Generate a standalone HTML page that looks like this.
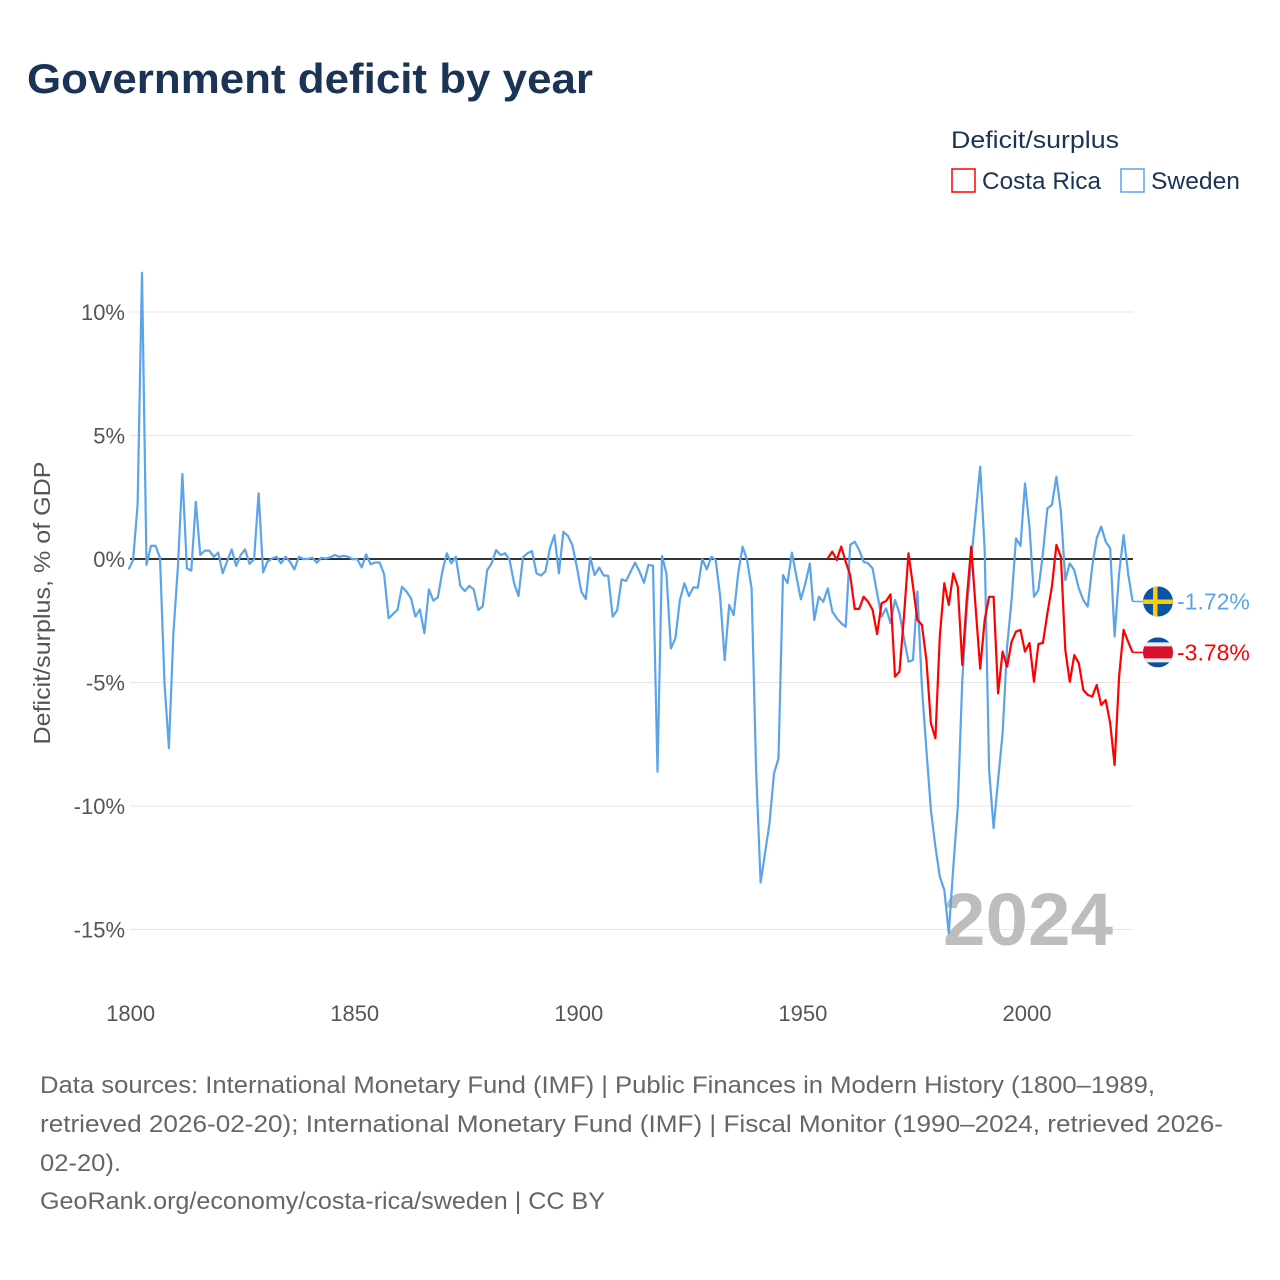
<!DOCTYPE html>
<html><head><meta charset="utf-8"><style>
html,body{margin:0;padding:0;background:#fff;}
svg{display:block;font-family:"Liberation Sans",sans-serif;}
</style></head><body>
<svg id="chart" width="1280" height="1280" viewBox="0 0 1280 1280" xmlns="http://www.w3.org/2000/svg">
<text x="27" y="93" font-size="42" font-weight="bold" fill="#1b3354" textLength="566" lengthAdjust="spacingAndGlyphs">Government deficit by year</text>
<text x="951" y="148" font-size="24" fill="#1b3354" textLength="168" lengthAdjust="spacingAndGlyphs">Deficit/surplus</text>
<g>
<rect x="952" y="169" width="23" height="23" fill="#fff" stroke="#ff0000" stroke-width="1.5"/>
<text x="982" y="189" font-size="24" fill="#1b3354" textLength="119" lengthAdjust="spacingAndGlyphs">Costa Rica</text>
</g>
<g>
<rect x="1121" y="169" width="23" height="23" fill="#fff" stroke="#5ba4ea" stroke-width="1.5"/>
<text x="1151" y="189" font-size="24" fill="#1b3354" textLength="89" lengthAdjust="spacingAndGlyphs">Sweden</text>
</g>
<text transform="translate(50,603) rotate(-90)" text-anchor="middle" font-size="23" fill="#555" textLength="283" lengthAdjust="spacingAndGlyphs">Deficit/surplus, % of GDP</text>
<g id="grid"></g>
<g id="xaxis"></g>
<text x="1113" y="945" text-anchor="end" font-size="74" font-weight="bold" fill="#bdbdbd" textLength="170" lengthAdjust="spacingAndGlyphs">2024</text>
<g id="series"></g>
<g id="endlabels"></g>
<g font-size="24" fill="#666">
<text x="40" y="1093" textLength="1115" lengthAdjust="spacingAndGlyphs">Data sources: International Monetary Fund (IMF) | Public Finances in Modern History (1800–1989,</text>
<text x="40" y="1132" textLength="1183" lengthAdjust="spacingAndGlyphs">retrieved 2026-02-20); International Monetary Fund (IMF) | Fiscal Monitor (1990–2024, retrieved 2026-</text>
<text x="40" y="1171" textLength="81" lengthAdjust="spacingAndGlyphs">02-20).</text>
<text x="40" y="1209" textLength="565" lengthAdjust="spacingAndGlyphs">GeoRank.org/economy/costa-rica/sweden | CC BY</text>
</g>
</svg>
<script>
const yTicks = [10, 5, 0, -5, -10, -15];
const xTicks = [1800, 1850, 1900, 1950, 2000];
const swedenStart = 1800;
const swedenValues = [
-0.42,-0.04,2.19,11.59,-0.24,0.53,0.54,0.05,-5.03,-7.66,
-3.01,-0.31,3.44,-0.38,-0.47,2.31,0.16,0.34,0.34,0.09,
0.26,-0.58,-0.08,0.39,-0.28,0.16,0.39,-0.2,-0.01,2.66,
-0.54,-0.11,0.02,0.09,-0.18,0.09,-0.11,-0.42,0.09,0,
0,0.05,-0.15,0.05,0.02,0.07,0.16,0.09,0.13,0.09,-0.01,
0,-0.34,0.19,-0.21,-0.14,-0.14,-0.61,-2.4,-2.23,-2.06,
-1.12,-1.32,-1.59,-2.33,-2.04,-3.01,-1.23,-1.69,-1.55,-0.51,
0.23,-0.18,0.09,-1.09,-1.3,-1.09,-1.23,-2.06,-1.92,-0.45,
-0.18,0.36,0.16,0.23,-0.04,-0.98,-1.5,0.07,0.23,0.32,
-0.58,-0.67,-0.51,0.43,0.97,-0.58,1.1,0.94,0.57,-0.31,
-1.32,-1.62,0.07,-0.65,
-0.35,-0.67,-0.68,-2.33,-2.08,-0.82,-0.89,-0.51,-0.15,-0.51,
-0.96,-0.24,-0.27,-8.61,0.12,-0.58,-3.62,-3.21,-1.66,-0.98,
-1.5,-1.15,-1.16,0,-0.42,0.09,-0.04,-1.53,-4.09,-1.86,
-2.27,-0.58,0.5,-0.04,-1.19,-8.54,-13.1,-11.92,-10.7,-8.68,
-8.07,-0.65,-0.98,0.26,-0.71,-1.63,-0.98,-0.18,-2.47,-1.53,-1.73,
-1.19,-2.13,-2.4,-2.6,-2.74,0.57,0.7,0.36,-0.11,-0.18,
-0.38,-1.39,-2.33,-2.0,-2.6,-1.66,-2.2,-3.21,-4.16,-4.09,-1.32,
-5.17,-7.73,-10.16,-11.65,-12.86,-13.4,-15.15,-12.46,-10.03,-4.9,
-2.06,-0.04,1.85,3.74,0.36,-8.54,-10.9,-8.95,-7.06,-3.55,
-1.66,0.84,0.53,3.06,1.3,-1.53,
-1.26,0.23,2.05,2.19,3.33,1.92,-0.85,-0.18,-0.45,-1.19,
-1.66,-1.93,-0.31,0.84,1.31,0.7,0.43,-3.14,-0.58,0.97,-0.58,-1.72
];
const costaStart = 1956;
const costaValues = [
0.03,0.3,-0.04,0.5,-0.11,-0.65,-2.02,-2.02,-1.53,-1.73,
-2.06,-3.04,-1.79,-1.7,-1.43,-4.76,-4.56,-2.3,0.23,-1.1,
-2.47,-2.67,-4.09,-6.65,-7.26,-3.14,-0.98,-1.86,-0.58,-1.12,
-4.29,-1.66,0.5,-2.0,-4.44,-2.47,-1.53,-1.53,-5.44,-3.75,
-4.36,-3.35,-2.94,-2.87,-3.75,-3.4,-4.97,-3.44,-3.4,-2.2,
-1.12,0.57,0.09,-3.68,-4.97,-3.89,-4.22,-5.3,-5.5,-5.57,
-5.1,-5.91,-5.71,-6.65,-8.34,-4.76,-2.87,-3.35,-3.78
];
const NS = "http://www.w3.org/2000/svg";
const X0 = 128.6, XS = 4.482, Y0 = 559, YS = 24.7, PL = 130, PR = 1133;
function xs(yr){ return X0 + (yr - 1800) * XS; }
function ys(v){ return Y0 - v * YS; }
function mk(tag, attrs, parent){ const e = document.createElementNS(NS, tag); for (const k in attrs) e.setAttribute(k, attrs[k]); parent.appendChild(e); return e; }
const grid = document.getElementById('grid');
yTicks.forEach(t => {
  const ln = mk('line', {x1: PL, x2: PR, y1: ys(t), y2: ys(t), stroke: t === 0 ? '#333' : '#e6e6e6', 'stroke-width': t === 0 ? 2 : 1}, grid);
  
  
  const lb = mk('text', {x: 125, y: ys(t) + 8, 'text-anchor': 'end', 'font-size': 22, fill: '#555'}, grid);
  lb.textContent = t + '%';
  
  
});
const xa = document.getElementById('xaxis');
xTicks.forEach(t => {
  const lb = mk('text', {x: xs(t) + 2, y: 1021, 'text-anchor': 'middle', 'font-size': 22, fill: '#555'}, xa);
  lb.textContent = t;
  
  
});
const sg = document.getElementById('series');
function line(start, vals, color, name){
  const pts = vals.map((v, i) => xs(start + i).toFixed(1) + ',' + ys(v).toFixed(1)).join(' ');
  const p = mk('polyline', {points: pts, fill: 'none', stroke: color, 'stroke-width': 2.2, 'stroke-linejoin': 'round'}, sg);
  
  
}
line(swedenStart, swedenValues, '#5ba4ea', 'sweden-line');
line(costaStart, costaValues, '#ff0000', 'costa-rica-line');
const eg = document.getElementById('endlabels');
function endLabel(vals, start, color, name, flag){
  const last = vals[vals.length - 1];
  const lx = xs(start + vals.length - 1), ly = ys(last);
  const cx = 1158;
  const cl = mk('line', {x1: lx, x2: cx, y1: ly, y2: ly, stroke: color, 'stroke-width': 1.5}, eg);
  
  
  const g = mk('g', {}, eg);
  
  
  const cid = 'clip-' + name;
  const cp = mk('clipPath', {id: cid}, g);
  mk('circle', {cx: cx, cy: ly, r: 15}, cp);
  const fg = mk('g', {'clip-path': 'url(#' + cid + ')'}, g);
  if (flag === 'se') {
    mk('rect', {x: cx - 15, y: ly - 15, width: 30, height: 30, fill: '#0a54a5'}, fg);
    mk('rect', {x: cx - 15, y: ly - 2, width: 30, height: 4.5, fill: '#fecc02'}, fg);
    mk('rect', {x: cx - 5, y: ly - 15, width: 4.5, height: 30, fill: '#fecc02'}, fg);
  } else {
    mk('rect', {x: cx - 15, y: ly - 15, width: 30, height: 30, fill: '#0a4fa3'}, fg);
    mk('rect', {x: cx - 15, y: ly - 10, width: 30, height: 20, fill: '#eeeeee'}, fg);
    mk('rect', {x: cx - 15, y: ly - 6, width: 30, height: 12, fill: '#d8102e'}, fg);
  }
  const t = mk('text', {x: 1177, y: ly + 8, 'font-size': 23, fill: color}, eg);
  t.textContent = last.toFixed(2) + '%';
  
  
}
endLabel(swedenValues, swedenStart, '#5ba4ea', 'sweden', 'se');
endLabel(costaValues, costaStart, '#ff0000', 'costa-rica', 'cr');
</script>
</body></html>
